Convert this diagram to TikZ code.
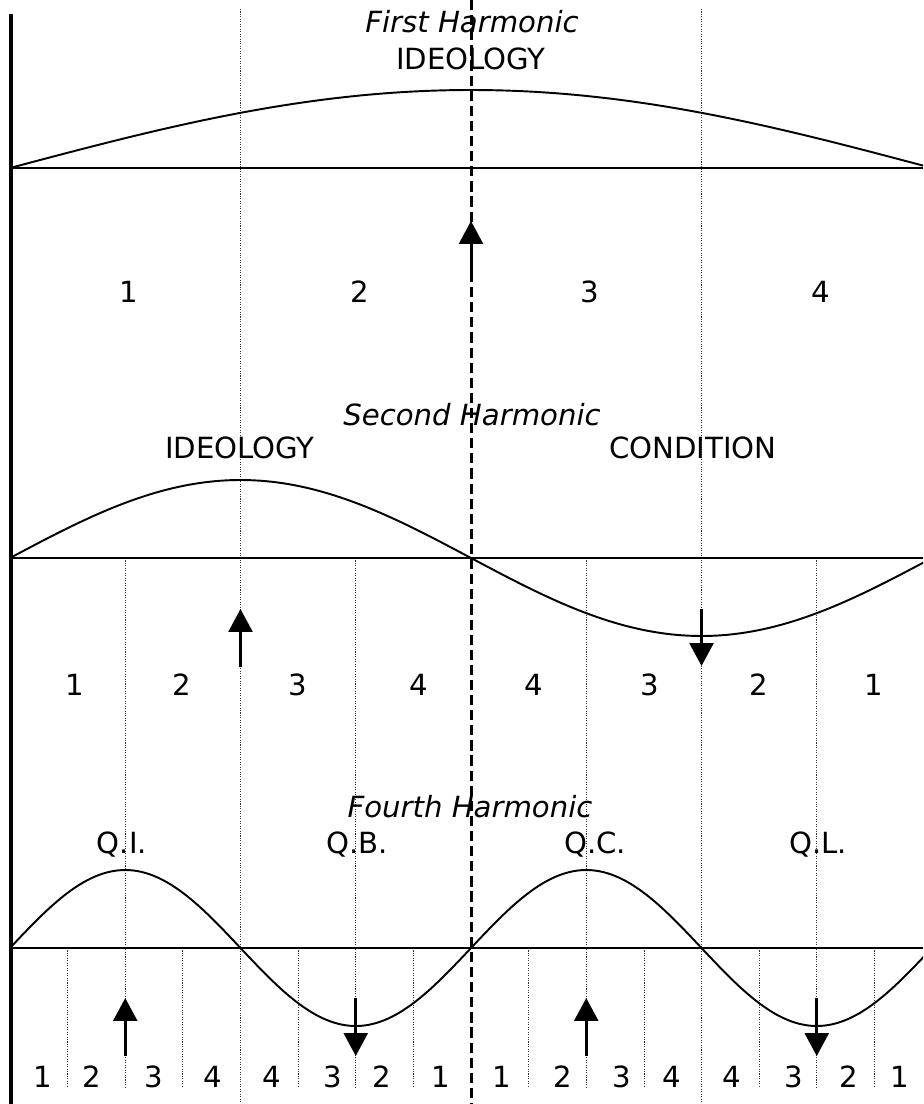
\documentclass[tikz,border=0pt]{standalone}
\usepackage{fontspec}
\setmainfont{DejaVu Sans}
\usepackage{tikz}
\usetikzlibrary{arrows.meta}

\begin{document}
\begin{tikzpicture}[x=0.02cm,y=-0.02cm,
    every node/.style={font=\fontsize{16.6}{19}\selectfont,inner sep=0pt,anchor=base},
    title/.style={font=\fontsize{16.6}{19}\selectfont\itshape},
    axisline/.style={line width=1.1pt},
    wave/.style={line width=1.1pt},
    guide/.style={line width=0.5pt,black!80,dash pattern=on 0.6pt off 0.8pt},
    centreline/.style={line width=1.7pt,dash pattern=on 5.8pt off 2.8pt},
    push/.style={line width=1.7pt,-{Triangle[length=13pt,width=13.5pt]}}]
  \clip (0,0) rectangle (923,1104);
  % guides
  \draw[guide] (240.5,9) -- (240.5,1104);
  \draw[guide] (701.5,9) -- (701.5,1104);
  \foreach \gx in {125.25,355.75,586.25,816.75}
    \draw[guide] (\gx,558) -- (\gx,1088);
  \foreach \gx in {67.6,182.9,298,413.4,528.6,644,759.4,874.4}
    \draw[guide] (\gx,948) -- (\gx,1088);
  % axes
  \draw[line width=2.3pt] (11,14) -- (11,1104);
  \draw[centreline] (471,0) -- (471,1104);
  \draw[axisline] (10,168) -- (923,168);
  \draw[axisline] (10,558) -- (923,558);
  \draw[axisline] (10,948) -- (923,948);
  % harmonics
  \draw[wave] plot[domain=10:932,samples=120] (\x,{168-78*sin((\x-10)/922*180)});
  \draw[wave] plot[domain=10:932,samples=160] (\x,{558-78*sin((\x-10)/922*360)});
  \draw[wave] plot[domain=10:932,samples=240] (\x,{948-78*sin((\x-10)/922*720)});
  % first harmonic
  \node[title] (h1) at (472,33) {First Harmonic};
  \node (ideo1) at (471,70) {IDEOLOGY};
  \foreach \nx/\nt [count=\i] in {129/1,360/2,590/3,821/4}
    \node (r1n\i) at (\nx,303) {\nt};
  \coordinate (a1s) at (471,277); \coordinate (a1t) at (471,221);
  \draw[push] (a1s) -- (a1t);
  % second harmonic
  \node[title] (h2) at (472,425) {Second Harmonic};
  \node (ideo2) at (240,458) {IDEOLOGY};
  \node (cond2) at (693,458) {CONDITION};
  \foreach \nx/\nt [count=\i] in {75/1,182/2,298/3,419/4,534/4,650/3,759/2,874/1}
    \node (r2n\i) at (\nx,695) {\nt};
  \coordinate (a2s) at (240.5,667); \coordinate (a2t) at (240.5,609);
  \coordinate (a3s) at (701.5,609); \coordinate (a3t) at (701.5,666);
  \draw[push] (a2s) -- (a2t);
  \draw[push] (a3s) -- (a3t);
  % fourth harmonic
  \node[title] (h4) at (470,817) {Fourth Harmonic};
  \node (qi) at (122,853) {Q.I.};
  \node (qb) at (357,853) {Q.B.};
  \node (qc) at (595,853) {Q.C.};
  \node (ql) at (818,853) {Q.L.};
  \foreach \nx/\nt [count=\i] in {43/1,92/2,154/3,213/4,272/4,333/3,382/2,441/1,
      502/1,563/2,622/3,672/4,732/4,794/3,849/2,900/1}
    \node (r3n\i) at (\nx,1087) {\nt};
  \coordinate (a4s) at (125.25,1056); \coordinate (a4t) at (125.25,998);
  \coordinate (a5s) at (355.75,998);  \coordinate (a5t) at (355.75,1056);
  \coordinate (a6s) at (586.25,1056); \coordinate (a6t) at (586.25,998);
  \coordinate (a7s) at (816.75,998);  \coordinate (a7t) at (816.75,1056);
  \draw[push] (a4s) -- (a4t);
  \draw[push] (a5s) -- (a5t);
  \draw[push] (a6s) -- (a6t);
  \draw[push] (a7s) -- (a7t);
\end{tikzpicture}
\end{document}
